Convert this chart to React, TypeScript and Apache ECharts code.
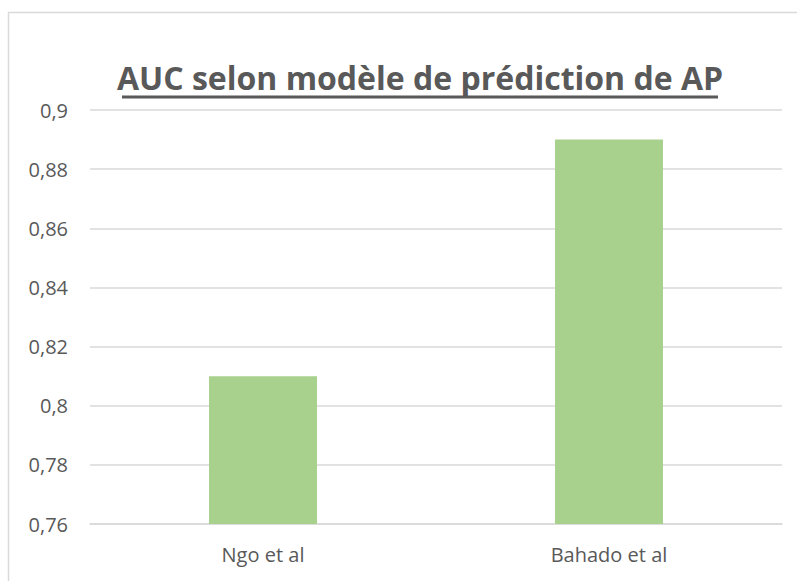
import React, { useEffect, useRef } from "react";
import * as echarts from "echarts";

const categories = ["Ngo et al", "Bahado et al"];
const aucValues = [0.81, 0.89];
const yMin = 0.76;
const yMax = 0.9;
const yStep = 0.02;
const titleText = "AUC selon modèle de prédiction de AP";

export default function App() {
  const ref = useRef<HTMLDivElement>(null);
  useEffect(() => {
    if (!ref.current) return;
    const chart = echarts.init(ref.current, null, { renderer: "svg" });
    chart.setOption({
      animation: false,
      backgroundColor: "#ffffff",
      grid: { left: 90, right: 15, top: 110, bottom: 57 },
      graphic: [
        { type: "line", shape: { x1: 8.5, y1: 12, x2: 8.5, y2: 581 }, style: { stroke: "#d9d9d9", lineWidth: 1.5 } },
        { type: "line", shape: { x1: 8, y1: 12.5, x2: 797, y2: 12.5 }, style: { stroke: "#d9d9d9", lineWidth: 1.5 } },
        {
          type: "text",
          x: 420,
          y: 77,
          style: {
            text: titleText,
            textAlign: "center",
            textVerticalAlign: "middle",
            fontFamily: "Open Sans",
            fontWeight: "bold",
            fontSize: 32,
            fill: "#595959",
          },
        },
        { type: "line", shape: { x1: 122, y1: 97, x2: 718, y2: 97 }, style: { stroke: "#595959", lineWidth: 3 } },
      ],
      xAxis: {
        type: "category",
        data: categories,
        axisLine: { show: true, lineStyle: { color: "#d9d9d9", width: 1.5 } },
        axisTick: { show: false },
        axisLabel: { color: "#595959", fontSize: 20, fontFamily: "Open Sans", margin: 20 },
      },
      yAxis: {
        type: "value",
        min: yMin,
        max: yMax,
        interval: yStep,
        axisLine: { show: false },
        axisTick: { show: false },
        splitLine: { lineStyle: { color: "#d9d9d9", width: 1.5 } },
        axisLabel: {
          color: "#595959",
          fontSize: 20,
          fontFamily: "Open Sans",
          margin: 22,
          formatter: (v: number) => String(parseFloat(v.toFixed(2))).replace(".", ","),
        },
      },
      series: [
        {
          type: "bar",
          data: aucValues,
          barWidth: 108,
          itemStyle: { color: "#a9d18e" },
        },
      ],
    });
    return () => chart.dispose();
  }, []);
  return <div ref={ref} style={{ width: 797, height: 581, position: "absolute", left: 0, top: 0 }} />;
}
